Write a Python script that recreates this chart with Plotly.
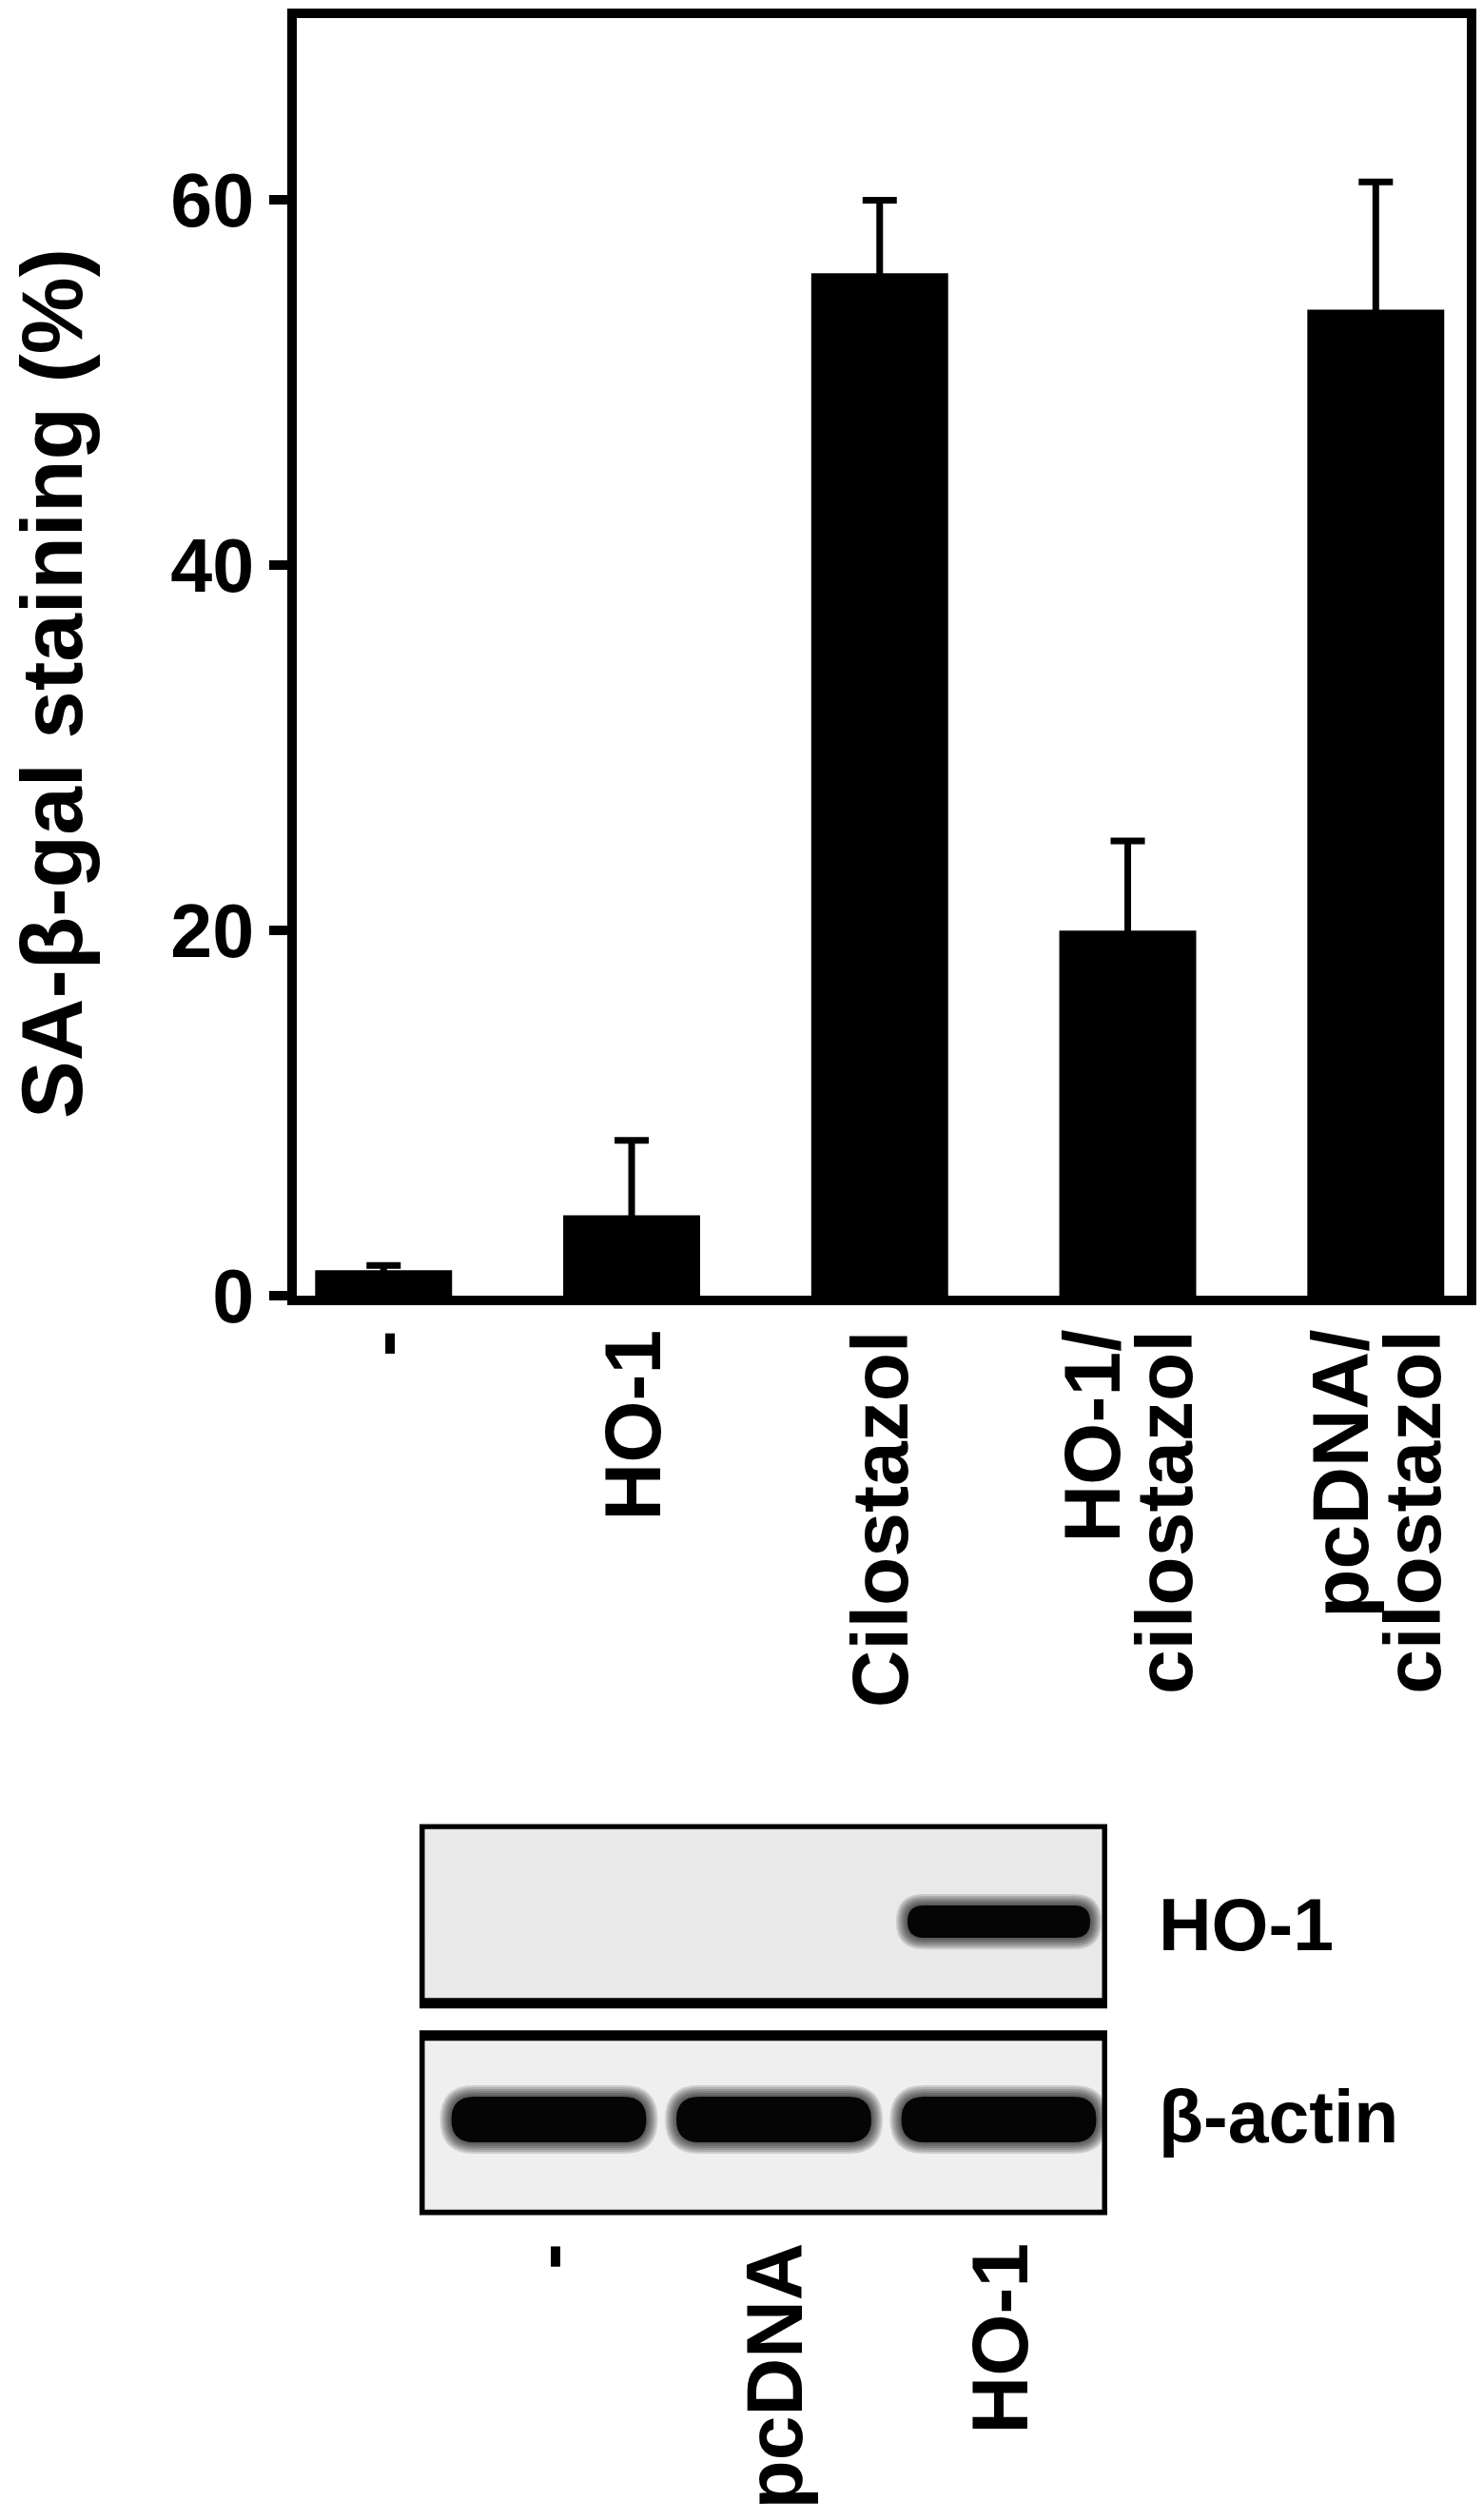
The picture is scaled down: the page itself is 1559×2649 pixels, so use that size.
"""SA-beta-gal staining bar chart with a western blot panel underneath."""

import plotly.graph_objects as go

W, H = 1559, 2649
FONT = "Liberation Sans, Arial, sans-serif"

# --- bar chart data -------------------------------------------------------
groups = ["-", "HO-1", "Cilostazol", "HO-1/<br>cilostazol", "pcDNA/<br>cilostazol"]
staining = [1.4, 4.4, 56.0, 20.0, 54.0]
staining_err = [0.25, 4.1, 4.0, 4.9, 7.0]
y_ticks = [0, 20, 40, 60]
y_title = "SA-β-gal staining (%)"

# --- western blot data ----------------------------------------------------
lanes = ["-", "pcDNA", "HO-1"]
blot_rows = ["β-actin", "HO-1"]          # bottom row first
band_signal = {"β-actin": [1, 1, 1], "HO-1": [0, 0, 1]}


def px_x(p):
    return p / W


def px_y(p):
    return 1 - p / H


# pixels per data unit on the blot axes (domain / range below)
UX = (1164 - 441) / (2.482 + 0.575)
UY = (2328.5 - 1917.5) / (1.4225 + 0.4247)


def band_path(xc, yc, w_px, h_px):
    """Rounded band outline in x2/y2 data units."""
    hw, hh = w_px / 2 / UX, h_px / 2 / UY
    r = min(w_px, h_px) / 2
    rx, ry = r / UX, r / UY
    x0, x1, y0, y1 = xc - hw, xc + hw, yc - hh, yc + hh
    return (
        f"M {x0 + rx},{y0} L {x1 - rx},{y0} Q {x1},{y0} {x1},{y0 + ry} "
        f"L {x1},{y1 - ry} Q {x1},{y1} {x1 - rx},{y1} "
        f"L {x0 + rx},{y1} Q {x0},{y1} {x0},{y1 - ry} "
        f"L {x0},{y0 + ry} Q {x0},{y0} {x0 + rx},{y0} Z"
    )


fig = go.Figure()

fig.add_trace(
    go.Bar(
        x=groups,
        y=staining,
        width=0.552,
        marker={"color": "black", "line": {"width": 0}},
        error_y={
            "type": "data",
            "array": staining_err,
            "thickness": 7,
            "width": 18,
            "color": "black",
        },
        hovertemplate="%{x}: %{y:.1f}%<extra></extra>",
    )
)

# invisible anchor trace for the blot panel
blot_x, blot_y = [], []
for r, row in enumerate(blot_rows):
    for i, v in enumerate(band_signal[row]):
        if v:
            blot_x.append(i)
            blot_y.append(r)
fig.add_trace(
    go.Scatter(
        x=blot_x, y=blot_y, mode="markers", marker={"opacity": 0},
        xaxis="x2", yaxis="y2", hoverinfo="skip",
    )
)

axis_line = {"showline": True, "linecolor": "black", "linewidth": 10, "mirror": True,
             "showgrid": False, "zeroline": False, "automargin": False}

fig.update_layout(
    width=W,
    height=H,
    margin={"l": 0, "r": 0, "t": 0, "b": 0, "pad": 0},
    paper_bgcolor="white",
    plot_bgcolor="white",
    showlegend=False,
    font={"family": FONT, "color": "black"},
    xaxis={**axis_line, "domain": [px_x(312), px_x(1542)], "range": [-0.35, 4.367],
           "showticklabels": False, "ticks": "", "type": "category"},
    yaxis={**axis_line, "domain": [px_y(1362), px_y(18.5)], "range": [0, 70],
           "tickvals": y_ticks, "ticks": "outside", "ticklen": 19, "tickwidth": 10,
           "tickcolor": "black",
           "tickfont": {"size": 79, "family": FONT, "weight": "bold"}},
    xaxis2={"domain": [px_x(441), px_x(1164)], "range": [-0.575, 2.482],
            "visible": False, "anchor": "y2", "automargin": False},
    yaxis2={"domain": [px_y(2328.5), px_y(1917.5)], "range": [-0.4247, 1.4225],
            "visible": False, "anchor": "x2", "automargin": False},
)

# y-axis title
fig.add_annotation(
    text=y_title, xref="paper", yref="paper", x=px_x(54), y=px_y(719),
    textangle=-90, showarrow=False, xanchor="center", yanchor="middle",
    font={"size": 91, "family": FONT, "weight": "bold"},
)

# rotated group labels, one annotation per line so lines sit close together
for g in groups:
    parts = g.split("<br>")
    for j, part in enumerate(parts):
        fig.add_annotation(
            text=part, x=g, y=0, xref="x", yref="y", yshift=-34,
            xshift=(j - (len(parts) - 1) / 2) * 76,
            textangle=-90, showarrow=False, xanchor="center", yanchor="top",
            font={"size": 84, "family": FONT, "weight": "bold"},
        )

# blot frames and bands
band_style = {
    "β-actin": {"w": 205, "h": 48, "dy": 0.027, "fill": "#efefef"},
    "HO-1": {"w": 192, "h": 34, "dy": -0.038, "fill": "#e9e9e9"},
}
for r, row in enumerate(blot_rows):
    st = band_style[row]
    fig.add_shape(
        type="rect", xref="x2", yref="y2", x0=-0.575, x1=2.482,
        y0=r - 0.4236, y1=r + 0.4236,
        line={"color": "black", "width": 11}, fillcolor=st["fill"],
    )
    for i, v in enumerate(band_signal[row]):
        if not v:
            continue
        for k in (6, 5, 4, 3, 2, 1):
            fig.add_shape(
                type="path", xref="x2", yref="y2",
                path=band_path(i, r + st["dy"], st["w"] + 4 * k, st["h"] + 4 * k),
                fillcolor="black", opacity=0.14, line={"width": 0},
            )
        fig.add_shape(
            type="path", xref="x2", yref="y2",
            path=band_path(i, r + st["dy"], st["w"], st["h"]),
            fillcolor="#050505", line={"width": 0},
        )

# blot row labels
row_label_y = {"β-actin": 2225, "HO-1": 2023}
for row in blot_rows:
    fig.add_annotation(
        text=row, xref="paper", yref="paper", x=px_x(1216), y=px_y(row_label_y[row]),
        showarrow=False, xanchor="left", yanchor="middle",
        font={"size": 77, "family": FONT, "weight": "bold"},
    )

# blot lane labels
for i, lane in enumerate(lanes):
    fig.add_annotation(
        text=lane, xref="x2", yref="paper", x=i, y=px_y(2356),
        textangle=-90, showarrow=False, xanchor="center", yanchor="top",
        font={"size": 84, "family": FONT, "weight": "bold"},
    )

fig.write_html(
    "out.html",
    config={"displayModeBar": False},
    post_script="document.body.style.margin='0';document.body.style.overflow='hidden';",
)
